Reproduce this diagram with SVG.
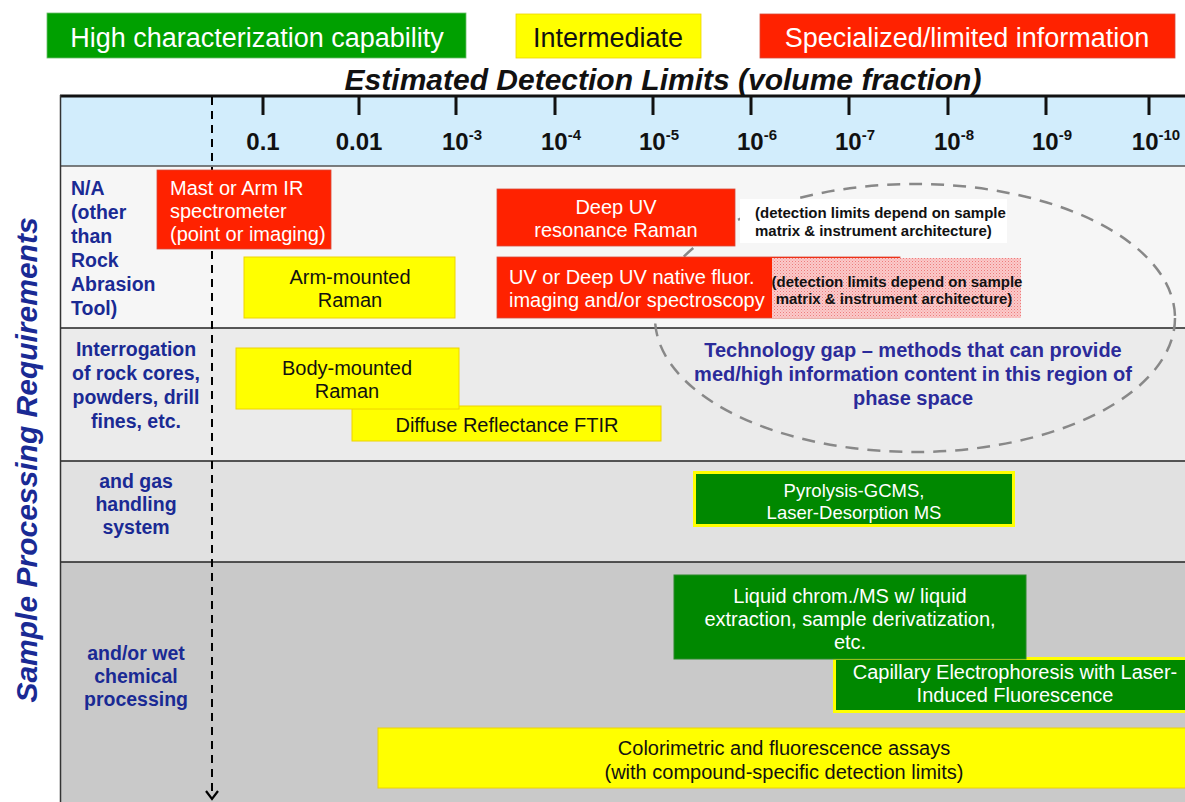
<svg xmlns="http://www.w3.org/2000/svg" width="1185" height="802" viewBox="0 0 1185 802">
<defs>
<style>
text{font-family:"Liberation Sans",Arial,sans-serif}
.leg{font-size:27px;text-anchor:middle}
.tick{stroke:#111;stroke-width:3}
.tl{font-size:24px;font-weight:bold;fill:#111;text-anchor:middle}
.sup{font-size:15px}
.rl{font-size:19.5px;font-weight:bold;fill:#1a2a94}
.bx{font-size:20px;text-anchor:middle}
.bxs{font-size:20px;text-anchor:start}
.py{font-size:18.5px;text-anchor:middle}
.w{fill:#fff}
.k{fill:#111}
.red{fill:#ff2200;stroke:#d84a3a;stroke-width:0.8}
.yel{fill:#ffff00;stroke:#eed400;stroke-width:1}
.grn{fill:#008800;stroke:#2a8a2a;stroke-width:1}
.grny{fill:#008800;stroke:#ffff00;stroke-width:3}
.det{font-size:15px;font-weight:bold;fill:#111}
.sep{stroke:#222;stroke-width:1.5}
</style>
<pattern id="hatch" width="3" height="3" patternUnits="userSpaceOnUse">
<rect width="3" height="3" fill="#fbcaca"/>
<rect width="1" height="1" fill="#ec7c7c"/>
<rect x="1.5" y="1.5" width="1" height="1" fill="#f29a9a"/>
</pattern>
<marker id="arr" markerWidth="16" markerHeight="16" refX="10" refY="7" orient="auto" markerUnits="userSpaceOnUse">
<path d="M2,1 L10,7 L2,13" fill="none" stroke="#000" stroke-width="2.2"/>
</marker>
</defs>
<rect width="1185" height="802" fill="#fff"/>

<g id="legend">
<rect x="47" y="13" width="419" height="45" fill="#00a000" stroke="#6cbf6c" stroke-width="0.8"/>
<text class="leg w" x="257" y="47">High characterization capability</text>
<rect x="516" y="14" width="185" height="44" fill="#ffff00" stroke="#eed400" stroke-width="0.8"/>
<text class="leg k" x="608" y="47">Intermediate</text>
<rect x="760" y="14" width="415" height="44" fill="#ff2200" stroke="#d84a3a" stroke-width="0.8"/>
<text class="leg w" x="967" y="47">Specialized/limited information</text>
</g>

<text x="663" y="90" font-size="30" font-weight="bold" font-style="italic" fill="#111" text-anchor="middle">Estimated Detection Limits (volume fraction)</text>

<g id="table">
<rect x="60" y="95" width="1125" height="71" fill="#d2edfc"/>
<rect x="60" y="166" width="1125" height="162" fill="#f6f6f6"/>
<rect x="60" y="328" width="1125" height="133" fill="#ebebeb"/>
<rect x="60" y="461" width="1125" height="101" fill="#e1e1e1"/>
<rect x="60" y="562" width="1125" height="240" fill="#c9c9c9"/>
<line x1="60" y1="96" x2="1185" y2="96" stroke="#111" stroke-width="3"/>
<line x1="60" y1="166" x2="1185" y2="166" stroke="#555" stroke-width="1.5"/>
<line class="sep" x1="60" y1="328" x2="1185" y2="328"/>
<line class="sep" x1="60" y1="461" x2="1185" y2="461"/>
<line class="sep" x1="60" y1="562" x2="1185" y2="562"/>
<line x1="60.5" y1="95" x2="60.5" y2="802" stroke="#333" stroke-width="1.5"/>
</g>

<g id="axis">
<line class="tick" x1="263" y1="97" x2="263" y2="115"/>
<line class="tick" x1="359" y1="97" x2="359" y2="115"/>
<line class="tick" x1="456" y1="97" x2="456" y2="115"/>
<line class="tick" x1="555" y1="97" x2="555" y2="115"/>
<line class="tick" x1="653" y1="97" x2="653" y2="115"/>
<line class="tick" x1="751" y1="97" x2="751" y2="115"/>
<line class="tick" x1="849" y1="97" x2="849" y2="115"/>
<line class="tick" x1="948" y1="97" x2="948" y2="115"/>
<line class="tick" x1="1046" y1="97" x2="1046" y2="115"/>
<line class="tick" x1="1149" y1="97" x2="1149" y2="115"/>
<text class="tl" x="263" y="150">0.1</text>
<text class="tl" x="359" y="150">0.01</text>
<text class="tl" x="462" y="150">10<tspan class="sup" dy="-10">-3</tspan></text>
<text class="tl" x="561" y="150">10<tspan class="sup" dy="-10">-4</tspan></text>
<text class="tl" x="659" y="150">10<tspan class="sup" dy="-10">-5</tspan></text>
<text class="tl" x="757" y="150">10<tspan class="sup" dy="-10">-6</tspan></text>
<text class="tl" x="855" y="150">10<tspan class="sup" dy="-10">-7</tspan></text>
<text class="tl" x="954" y="150">10<tspan class="sup" dy="-10">-8</tspan></text>
<text class="tl" x="1052" y="150">10<tspan class="sup" dy="-10">-9</tspan></text>
<text class="tl" x="1156" y="150">10<tspan class="sup" dy="-10">-10</tspan></text>
</g>

<text transform="translate(37,460) rotate(-90)" font-size="30" font-weight="bold" font-style="italic" fill="#1a2a94" text-anchor="middle">Sample Processing Requirements</text>

<g id="row-labels">
<text class="rl" x="71" y="195">N/A</text>
<text class="rl" x="71" y="219">(other</text>
<text class="rl" x="71" y="243">than</text>
<text class="rl" x="71" y="267">Rock</text>
<text class="rl" x="71" y="291">Abrasion</text>
<text class="rl" x="71" y="315">Tool)</text>
<g text-anchor="middle">
<text class="rl" x="136" y="356">Interrogation</text>
<text class="rl" x="136" y="380">of rock cores,</text>
<text class="rl" x="136" y="404">powders, drill</text>
<text class="rl" x="136" y="428">fines, etc.</text>
<text class="rl" x="136" y="488">and gas</text>
<text class="rl" x="136" y="511">handling</text>
<text class="rl" x="136" y="534">system</text>
<text class="rl" x="136" y="660">and/or wet</text>
<text class="rl" x="136" y="683">chemical</text>
<text class="rl" x="136" y="706">processing</text>
</g>
</g>

<g id="connectors">
<line x1="212" y1="97" x2="212" y2="799" stroke="#000" stroke-width="2" stroke-dasharray="8,6" marker-end="url(#arr)"/>
</g>

<g id="tech-gap">
<ellipse cx="915" cy="318" rx="260" ry="134" fill="none" stroke="#888" stroke-width="2.5" stroke-dasharray="13,9"/>
<g font-size="20" font-weight="bold" fill="#2b2b9a" text-anchor="middle">
<text x="913" y="357">Technology gap – methods that can provide</text>
<text x="913" y="381">med/high information content in this region of</text>
<text x="913" y="405">phase space</text>
</g>
</g>

<g id="mast-ir">
<rect class="red" x="157" y="170" width="174" height="79"/>
<text class="bxs w" x="170" y="195">Mast or Arm IR</text>
<text class="bxs w" x="170" y="218">spectrometer</text>
<text class="bxs w" x="170" y="241">(point or imaging)</text>
</g>

<g id="arm-raman">
<rect class="yel" x="244" y="257" width="211" height="61"/>
<text class="bx k" x="350" y="284">Arm-mounted</text>
<text class="bx k" x="350" y="307">Raman</text>
</g>

<g id="deep-uv-raman">
<rect class="red" x="497" y="189" width="238" height="57"/>
<text class="bx w" x="616" y="214">Deep UV</text>
<text class="bx w" x="616" y="237">resonance Raman</text>
</g>

<g id="deep-uv-raman-note">
<rect x="740" y="199" width="267" height="44" fill="#fff"/>
<text class="det" x="755" y="218">(detection limits depend on sample</text>
<text class="det" x="755" y="236">matrix &amp; instrument architecture)</text>
</g>

<g id="uv-fluor">
<rect class="red" x="497" y="257" width="403" height="61"/>
<rect x="772" y="258" width="249" height="60" fill="url(#hatch)"/>
<text class="bxs w" x="509" y="284">UV or Deep UV native fluor.</text>
<text class="bxs w" x="509" y="307">imaging and/or spectroscopy</text>
<text class="det" x="897" y="287" text-anchor="middle">(detection limits depend on sample</text>
<text class="det" x="894" y="304" text-anchor="middle">matrix &amp; instrument architecture)</text>
</g>

<g id="diffuse-ftir">
<rect class="yel" x="352" y="406" width="309" height="35"/>
<text class="bx k" x="507" y="432">Diffuse Reflectance FTIR</text>
</g>

<g id="body-raman">
<rect class="yel" x="236" y="348" width="223" height="61"/>
<text class="bx k" x="347" y="375">Body-mounted</text>
<text class="bx k" x="347" y="398">Raman</text>
</g>

<g id="pyrolysis">
<rect class="grny" x="694.5" y="472.5" width="319" height="53"/>
<text class="py w" x="854" y="497">Pyrolysis-GCMS,</text>
<text class="py w" x="854" y="519">Laser-Desorption MS</text>
</g>

<g id="capillary">
<rect class="grny" x="834.5" y="658.5" width="360" height="53"/>
<text class="bx w" x="1015" y="679">Capillary Electrophoresis with Laser-</text>
<text class="bx w" x="1015" y="702">Induced Fluorescence</text>
</g>

<g id="liquid-chrom">
<rect class="grn" x="674" y="575" width="352" height="84"/>
<text class="bx w" x="850" y="603">Liquid chrom./MS w/ liquid</text>
<text class="bx w" x="850" y="626">extraction, sample derivatization,</text>
<text class="bx w" x="850" y="649">etc.</text>
</g>

<g id="colorimetric">
<rect class="yel" x="378" y="728" width="820" height="60"/>
<text class="bx k" x="784" y="755">Colorimetric and fluorescence assays</text>
<text class="bx k" x="784" y="779">(with compound-specific detection limits)</text>
</g>
</svg>
